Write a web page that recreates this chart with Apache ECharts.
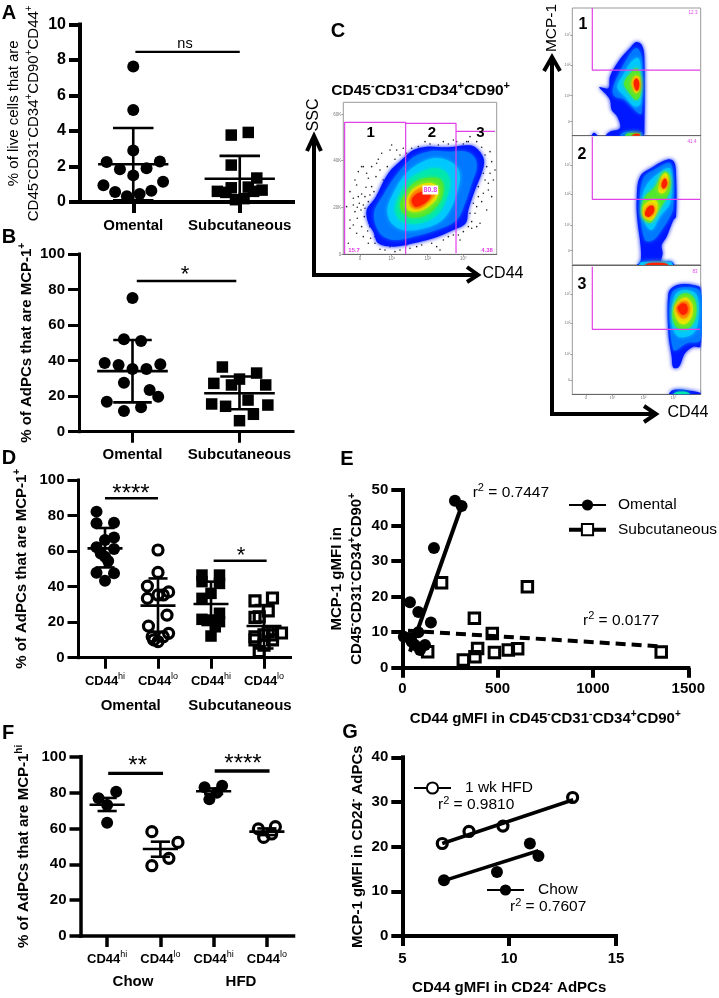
<!DOCTYPE html>
<html><head><meta charset="utf-8">
<style>html,body{margin:0;padding:0;background:#fff}#c{width:719px;height:998px}</style>
<script src="https://cdn.jsdelivr.net/npm/echarts@6/dist/echarts.min.js"></script>
</head><body><div id="c"></div>
<script>
// ---------- panel A
const groupsAB=['Omental','Subcutaneous'];
const aOmental=[[1,7.63],[1,5.18],[1,2.9],[.75,2.25],[1.25,2.28],[.875,1.84],[1.125,1.9],[1,1.5],[.72,.94],[1.28,1.14],[.83,.56],[1.17,.64],[.94,.32],[1.06,.45]];
const aSubcut=[[1.92,3.77],[2.08,3.92],[1.92,2.08],[2.16,1.35],[1.92,.8],[2.08,.84],[1.79,.6],[1.87,.54],[2.13,.6],[2.21,.67],[1.96,.13],[2.04,.19]];
const aStats=[[1,2.13,4.17,.1],[2,1.31,2.6,.03]];
const aSig=[[1.02,8.46],[2,8.46]];
// ---------- panel B
const bOmental=[[1,75.2],[.92,52],[1.08,51],[.74,38.6],[.87,37.5],[1,35.3],[1.13,35.3],[1.26,37.9],[.92,27.6],[1.16,23.5],[1.24,19.7],[.76,16.9],[.92,11.6],[1.08,13.7]];
const bSubcut=[[1.84,36.4],[1.76,27.2],[1.925,26.3],[2,29.6],[2.16,33],[2.245,26.3],[1.74,15.6],[1.87,14.3],[2.08,17.8],[2.265,15],[2.13,9.8],[2,6.2]];
const bStats=[[1,34.1,51.6,16.5],[2,21.6,31.1,12.6]];
const bSig=[[1.04,84.8],[1.97,84.8]];
// ---------- panel D
const hiLo=['CD44{sup|hi}','CD44{sup|lo}','CD44{sup|hi}','CD44{sup|lo}'];
const dOmHi=[[.84,82.2],[.84,75.6],[1.17,76],[1.17,67.7],[1,66.2],[.84,62.1],[1.17,61.2],[.92,58.7],[1,56.8],[1.06,54.4],[.84,47.8],[1.17,47.5],[1,43.3]];
const dOmLo=[[2,60.6],[2,48],[1.8,40.3],[2.2,37],[2,35.3],[1.8,33.4],[2.1,35.3],[2.17,24],[1.82,17.8],[2.2,13.7],[1.89,11.8],[2.1,11.8],[2,9],[1.92,10]];
const dSubHi=[[2.83,46.5],[3.16,46.5],[2.83,42.8],[3.16,41.8],[3,36.2],[2.83,33.4],[3.16,25],[2.83,21.6],[3,21.2],[3.16,20.3],[3.08,17.4],[3,12.2]];
const dSubLo=[[3.83,32],[4.16,33.6],[4.08,26.4],[3.83,22.7],[3.91,23],[4.33,13.9],[3.83,11.8],[3.83,10],[4.16,12.8],[4,12.8],[4,7.1],[3.91,3.4],[4.08,14.6],[4.16,10]];
const dStats=[[1,61.5,73,50.8],[2,29.3,44.6,14.6],[3,30.2,42.8,18.4],[4,17.8,29.6,5.2]];
const dSig1=[[1,89.7],[2,89.7]];
const dSig2=[[3.05,54.6],[4.05,54.6]];
// ---------- panel E
const eOmental=[[276,47],[311,45.5],[166,33.7],[40,18.4],[84,15.7],[150,12.7],[84,10],[40,8.3],[8,8.7],[66,6.4],[119,6.4],[93,5],[49,7.3]];
const eSubcut=[[206,23.9],[656,22.8],[378,13.9],[472,9.6],[1358,4.4],[320,2.2],[381,3.1],[395,5.4],[483,4.3],[556,5],[605,5.3],[133,4.5]];
const eOmFit=[[40,4.5],[311,45.5]];
const eSubFit=[[30,10.4],[1358,6]];
// ---------- panel F
const fChowHi=[[1.17,80.5],[.84,76.8],[1,73],[1,63.2]];
const fChowLo=[[1.84,58.2],[2.33,52.2],[2.16,43.3],[1.84,39.2]];
const fHfdHi=[[2.83,82.9],[3.16,83.8],[3.06,79.9],[2.92,76.2]];
const fHfdLo=[[3.84,59.7],[4.16,61],[4.09,56.9],[3.94,55]];
const fStats=[[1,73.2,77,69.7],[2,48.5,52.6,44.2],[3,80.7,82.3,79.2],[4,58.2,60,56.3]];
const fSig1=[[1.02,90.7],[2.05,90.7]];
const fSig2=[[3.02,92],[4.05,92]];
// ---------- panel G
const gHfd=[[6.87,20.7],[8.12,23.4],[9.71,24.6],[12.97,31]];
const gChow=[[6.95,12.5],[9.43,14.3],[10.97,20.7],[11.37,17.9]];
const gHfdFit=[[6.87,20.7],[13,30.5]];
const gChowFit=[[6.95,12.4],[11.37,19.1]];
// ---------- panel C, flow plots: contour outlines
const heat=['#0018ff','#0078ff','#00c8ff','#00e8b0','#50e830','#e8e800','#ff9800','#ff2000'];
const flowMain=[
 [[200,420],[225,385],[265,310],[310,265],[340,240],[380,230],[440,232],[510,226],[535,240],[552,270],[545,310],[525,360],[505,420],[497,460],[460,480],[400,505],[340,520],[280,530],[235,520],[220,485],[205,460]],
 [[222,430],[250,375],[285,320],[340,262],[395,243],[450,245],[500,245],[525,265],[530,295],[515,340],[495,400],[470,450],[410,480],[340,500],[280,510],[240,490]],
 [[262,420],[280,370],[310,320],[350,285],[400,265],[440,270],[470,290],[480,320],[470,370],[450,420],[420,455],[360,478],[310,480],[275,460]],
 [[285,415],[300,370],[325,330],[365,305],[410,295],[440,310],[450,340],[440,385],[415,430],[375,455],[320,460],[295,445]],
 [[300,410],[315,370],[340,340],[375,325],[415,325],[430,345],[425,385],[400,420],[365,440],[325,440]],
 [[318,400],[332,365],[360,345],[395,340],[415,355],[410,385],[385,410],[350,425],[325,420]],
 [[328,390],[345,362],[375,350],[400,355],[405,375],[385,395],[360,415],[335,412]],
 [[335,390],[350,372],[375,365],[392,375],[385,390],[365,405],[345,410]]];
const flowMainHeat=[0,1,2,3,4,5,6,7];
const flowMainDots=[[190,290],[205,325],[170,345],[185,372],[160,385],[215,350],[228,320],[240,300],[235,268],[270,240],[285,268],[262,290],[250,330],[222,365],[198,352],[178,400],[190,405],[205,395],[183,420],[165,425],[150,450],[172,445],[193,440],[160,465],[185,470],[203,483],[212,505],[190,500],[170,490],[225,520],[240,538],[205,520],[255,540],[285,545],[330,535],[350,530],[365,525],[395,520],[420,540],[430,510],[445,500],[460,495],[470,470],[490,485],[505,470],[515,455],[525,430],[510,430],[530,410],[545,395],[520,400],[550,370],[535,350],[565,340],[555,330],[580,330],[570,310],[585,300],[560,290],[575,275],[555,255],[570,245],[545,232],[530,215],[510,200],[505,215],[490,222],[470,215],[460,210],[445,222],[430,215],[415,225],[390,222],[375,215],[355,230],[335,235],[320,250],[300,255],[310,235],[200,310],[215,290],[150,365],[140,410],[165,330],[175,305],[230,280],[185,290],[245,250],[275,225],[290,240],[540,460],[560,420],[575,380],[530,470],[480,510],[410,530],[320,525],[300,540],[270,530],[225,500],[210,470],[175,380],[195,380],[210,375],[160,405],[172,412],[195,415],[540,300],[550,310],[565,360],[535,380],[515,475],[475,495],[150,475],[145,520],[515,235],[525,240],[540,250],[500,215]];
const flowMainGates=[[[134,553],[134,157],[317,157],[317,553]],[[317,160],[468,160],[468,550]],[[468,184],[585,184]]];
const flow1=[
 [[208,262],[235,265],[240,230],[265,185],[300,145],[318,127],[335,135],[343,170],[343,400],[340,407],[228,407],[240,395],[270,385],[262,350],[245,330],[240,300],[225,280]],
 [[185,407],[192,398],[203,407]],
 [[248,270],[265,225],[295,170],[318,145],[332,160],[337,200],[335,340],[325,340],[285,300],[255,290]],
 [[262,262],[280,225],[305,185],[325,175],[333,210],[332,310],[315,320],[285,290]],
 [[282,250],[300,222],[320,205],[331,225],[331,285],[318,300],[295,275]],
 [[305,245],[316,228],[328,232],[330,265],[318,280],[308,265]],
 [[311,247],[319,235],[327,245],[326,268],[318,272]],
 [[270,407],[285,396],[332,396],[338,407]],
 [[285,407],[295,400],[328,400],[332,407]],
 [[305,407],[315,402],[328,402],[330,407]]];
const flow1Heat=[0,0,1,2,4,5,7,1,4,7];
const flow1Gates=[[[187,25],[187,211],[510,211]]];
const flow2=[
 [[320,600],[330,530],[370,500],[415,478],[432,485],[438,520],[438,650],[430,660],[410,710],[395,735],[398,760],[395,785],[425,785],[432,795],[322,795],[332,782],[332,740],[322,660]],
 [[330,620],[340,535],[380,505],[418,488],[428,510],[430,620],[420,650],[395,690],[370,720],[345,720]],
 [[335,610],[350,555],[400,510],[420,505],[425,550],[420,610],[390,650],[365,690],[345,670]],
 [[335,625],[345,590],[375,560],[402,515],[418,525],[420,570],[400,610],[380,640],[360,668],[340,655]],
 [[385,570],[395,530],[408,520],[416,545],[405,575],[392,580]],
 [[338,640],[345,612],[378,602],[382,630],[365,660],[345,655]],
 [[395,550],[405,535],[412,550],[405,565],[397,565]],
 [[345,638],[355,620],[370,618],[372,635],[358,650],[347,648]],
 [[328,795],[335,786],[422,786],[428,795]],
 [[345,795],[360,789],[400,789],[415,795]]];
const flow2Heat=[0,1,2,4,5,5,7,7,2,7];
const flow2Gates=[[[187,410],[187,598],[510,598]]];
const flow3=[
 [[415,1000],[415,880],[430,860],[460,852],[490,855],[511,865],[511,1040],[490,1040],[465,1060],[447,1100],[430,1103],[425,1070]],
 [[420,980],[425,880],[460,862],[511,875],[511,1020],[470,1030],[440,1050],[430,1050]],
 [[425,950],[435,885],[465,870],[500,885],[505,960],[490,1000],[450,1012],[430,990]],
 [[428,935],[445,890],[470,880],[495,900],[497,950],[475,985],[445,985],[430,965]],
 [[433,925],[450,900],[470,893],[487,915],[485,950],[465,972],[445,965]],
 [[438,925],[455,905],[472,905],[480,925],[472,950],[455,955]],
 [[443,925],[457,910],[470,915],[472,935],[458,945]],
 [[418,1183],[430,1170],[480,1172],[511,1178],[511,1183]],
 [[430,1183],[440,1176],[470,1176],[480,1183]]];
const flow3Heat=[0,1,2,4,5,6,7,0,3];
const flow3Gates=[[[187,800],[187,988],[510,988]]];
const sscTicks=[[133,'60K'],[272,'40K'],[413,'20K'],[553,'0']];
const cd44MainTicks=[[180,'0'],[275,'10¹'],[383,'10²'],[490,'10³']];
const cd44SideTicks=[[168,'0'],[247,'10¹'],[340,'10²'],[430,'10³']];
const mcp1Ticks=[[[106,'10³'],[195,'10²'],[287,'10¹'],[365,'0']],[[495,'10³'],[582,'10²'],[675,'10¹'],[752,'0']],[[883,'10³'],[970,'10²'],[1062,'10¹'],[1140,'0']]];

// ---------- styling helpers
const FF='"Liberation Sans",Arial,sans-serif';
const supB=s=>({fontFamily:FF,fontWeight:'bold',fontSize:s,verticalAlign:'top',lineHeight:s+7});
const nameStyle=(size,lh)=>({fontFamily:FF,fontWeight:'bold',fontSize:size,color:'#000',lineHeight:lh||size+4,
  rich:{sup:supB(Math.round(size*.68))}});
const grids=[],xAxes=[],yAxes=[],series=[],texts=[];

function yAxisDef(gi,max,interval,lw,fs,name,gap,nameFs,lh){
  return {gridIndex:gi,type:'value',min:0,max,interval,name,nameLocation:'middle',nameGap:gap,nameTextStyle:nameStyle(nameFs,lh),
    splitLine:{show:false},axisLine:{show:true,onZero:false,lineStyle:{color:'#000',width:lw,cap:'square'}},
    axisTick:{show:true,length:11,lineStyle:{color:'#000',width:lw}},
    axisLabel:{color:'#000',fontFamily:FF,fontWeight:'bold',fontSize:fs,margin:14}};
}
function xCat(gi,cats,lw,fs,margin){
  return {gridIndex:gi,type:'category',data:cats,boundaryGap:true,position:'bottom',
    axisLine:{show:true,onZero:false,lineStyle:{color:'#000',width:lw,cap:'square'}},
    axisTick:{show:true,alignWithLabel:true,length:11,lineStyle:{color:'#000',width:lw}},splitLine:{show:false},
    axisLabel:{color:'#000',fontFamily:FF,fontWeight:'bold',fontSize:fs,margin,interval:0,lineHeight:fs+6,
      rich:{sup:{fontFamily:FF,fontWeight:'normal',fontSize:Math.round(fs*.68),verticalAlign:'top',lineHeight:fs+6,color:'#000'}}}};
}
function xHidden(gi,min,max){return {gridIndex:gi,type:'value',min,max,show:false,splitLine:{show:false}};}
function addGrid(l,t,w,h,extra){grids.push(Object.assign({left:l,top:t,width:w,height:h,containLabel:false},extra||{}));return grids.length-1;}

function scatter(name,data,xi,yi,sym,size,open,lw){
  series.push({name,type:'scatter',xAxisIndex:xi,yAxisIndex:yi,data,symbol:sym,symbolSize:size,z:open?4:3,silent:true,
    itemStyle:open?{opacity:1,color:'rgba(255,255,255,0)',borderColor:'#000',borderWidth:lw||3.2}:{opacity:1,color:'#000'}});
}
function stats(data,xi,yi,meanW,capW,lw){
  series.push({type:'custom',xAxisIndex:xi,yAxisIndex:yi,z:5,silent:true,data,encode:{x:0,y:1},
    renderItem(p,api){
      const x=api.value(0),m=api.value(1),u=api.value(2),d=api.value(3);
      const seg=(a,b,c,e)=>{const A=api.coord([a,b]),B=api.coord([c,e]);
        return {type:'line',shape:{x1:A[0],y1:A[1],x2:B[0],y2:B[1]},style:{stroke:'#000',lineWidth:lw}};};
      return {type:'group',children:[seg(x,u,x,d),seg(x-meanW,m,x+meanW,m),seg(x-capW,u,x+capW,u),seg(x-capW,d,x+capW,d)]};
    }});
}
function line(name,data,xi,yi,w,extra){
  series.push(Object.assign({name,type:'line',xAxisIndex:xi,yAxisIndex:yi,data,showSymbol:false,symbol:'none',silent:true,z:2,animation:false,
    lineStyle:{color:'#000',width:w}},extra||{}));
}
function txt(x,y,text,size,weight,align,opt){
  texts.push(Object.assign({type:'text',x,y,z:50,silent:true,style:{text,fill:(opt&&opt.fill)||'#000',font:`${weight} ${size}px ${FF}`,
    fontFamily:FF,fontSize:size,fontWeight:weight,textAlign:align||'center',textVerticalAlign:'middle',
    backgroundColor:opt&&opt.bg,padding:opt&&opt.bg?[1,1]:undefined,
    rich:{sup:{fontFamily:FF,fontWeight:weight,fontSize:Math.round(size*.68),verticalAlign:'top',lineHeight:size+4,fill:'#000',color:'#000'},
          t:{fontFamily:FF,fontWeight:weight,fontSize:size,lineHeight:size+4,fill:'#000',color:'#000'}}}},
    opt&&opt.rotation?{rotation:opt.rotation}:{}));
}
const plainNum=v=>String(v);

// ---------- A
let g=addGrid(80,24.5,213,177.5);
xAxes.push(xCat(g,groupsAB,4,15,13)); let xv=xAxes.length; xAxes.push(xHidden(g,.5,2.5));
let ya=yAxes.length; yAxes.push(yAxisDef(g,10,2,4,16,'% of live cells that are\nCD45{sup|-}CD31{sup|-}CD34{sup|+}CD90{sup|+}CD44{sup|+}',33,15,20));
yAxes[ya].nameTextStyle.fontWeight='normal';yAxes[ya].nameTextStyle.rich.sup.fontWeight='normal';
scatter('A Omental',aOmental,xv,ya,'circle',12);scatter('A Subcutaneous',aSubcut,xv,ya,'rect',11.5);
stats(aStats,xv,ya,.33,.19,2.6);line('A sig',aSig,xv,ya,2.4);
// ---------- B
g=addGrid(79,254,214,177.7);
xAxes.push(xCat(g,groupsAB,3,15,13));xv=xAxes.length;xAxes.push(xHidden(g,.5,2.5));
ya=yAxes.length;yAxes.push(yAxisDef(g,100,20,3,15,'% of AdPCs that are MCP-1{sup|+}',41,15));
scatter('B Omental',bOmental,xv,ya,'circle',12);scatter('B Subcutaneous',bSubcut,xv,ya,'rect',11.5);
stats(bStats,xv,ya,.33,.18,2.6);line('B sig',bSig,xv,ya,2.4);
// ---------- D
g=addGrid(78.5,480,212,177.7);
xAxes.push(xCat(g,hiLo,3,13,14));xv=xAxes.length;xAxes.push(xHidden(g,.5,4.5));
ya=yAxes.length;yAxes.push(yAxisDef(g,100,20,3,15,'% of AdPCs that are MCP-1{sup|+}',47,15));
scatter('D om hi',dOmHi,xv,ya,'circle',12);scatter('D om lo',dOmLo,xv,ya,'circle',10,true);
scatter('D sub hi',dSubHi,xv,ya,'rect',11.5);scatter('D sub lo',dSubLo,xv,ya,'rect',10,true);
stats(dStats,xv,ya,.33,.18,2.6);line('D sig1',dSig1,xv,ya,2.4);line('D sig2',dSig2,xv,ya,2.4);
// ---------- E
g=addGrid(402.3,490,286,177.7);
xv=xAxes.length;xAxes.push({gridIndex:g,type:'value',min:0,max:1500,interval:500,name:'CD44 gMFI in CD45{sup|-}CD31{sup|-}CD34{sup|+}CD90{sup|+}',nameLocation:'middle',nameGap:42,nameTextStyle:nameStyle(15),splitLine:{show:false},
  axisLine:{show:true,onZero:false,lineStyle:{color:'#000',width:4,cap:'square'}},axisTick:{show:true,length:10,lineStyle:{color:'#000',width:4}},
  axisLabel:{color:'#000',fontFamily:FF,fontWeight:'bold',fontSize:15,margin:14,formatter:plainNum}});
ya=yAxes.length;yAxes.push(yAxisDef(g,50,10,4,15,'MCP-1 gMFI in\nCD45{sup|-}CD31{sup|-}CD34{sup|+}CD90{sup|+}',35,15,20));
scatter('E Omental pts',eOmental,xv,ya,'circle',12);scatter('E Sub pts',eSubcut,xv,ya,'rect',10.5,true,3);
line('Omental',eOmFit,xv,ya,4,{symbol:'circle',itemStyle:{color:'#000'}});
line('Subcutaneous',eSubFit,xv,ya,4,{symbol:'rect',itemStyle:{color:'#fff',borderColor:'#000',borderWidth:3},lineStyle:{color:'#000',width:4,type:[10,6]}});
// ---------- F
g=addGrid(80.5,756.7,213,179.3);
xAxes.push(xCat(g,hiLo,3.5,13,14));xv=xAxes.length;xAxes.push(xHidden(g,.5,4.5));
ya=yAxes.length;yAxes.push(yAxisDef(g,100,20,3.5,15,'% of AdPCs that are MCP-1{sup|hi}',47,15));
scatter('F1',fChowHi,xv,ya,'circle',12);scatter('F2',fChowLo,xv,ya,'circle',10,true);
scatter('F3',fHfdHi,xv,ya,'circle',12);scatter('F4',fHfdLo,xv,ya,'circle',10,true);
stats(fStats,xv,ya,.33,.18,2.6);line('F sig1',fSig1,xv,ya,3.4);line('F sig2',fSig2,xv,ya,3.4);
// ---------- G
g=addGrid(402.3,757.3,213.7,178.7);
xv=xAxes.length;xAxes.push({gridIndex:g,type:'value',min:5,max:15,interval:5,name:'CD44 gMFI in CD24{sup|-} AdPCs',nameLocation:'middle',nameGap:42,nameTextStyle:nameStyle(15),splitLine:{show:false},
  axisLine:{show:true,onZero:false,lineStyle:{color:'#000',width:4,cap:'square'}},axisTick:{show:true,length:10,lineStyle:{color:'#000',width:4}},
  axisLabel:{color:'#000',fontFamily:FF,fontWeight:'bold',fontSize:15,margin:15,formatter:plainNum}});
ya=yAxes.length;yAxes.push(yAxisDef(g,40,10,4,15,'MCP-1 gMFI in CD24{sup|-} AdPCs',34,15));
scatter('G chow pts',gChow,xv,ya,'circle',12);scatter('G hfd pts',gHfd,xv,ya,'circle',10,true);
line('1 wk HFD',gHfdFit,xv,ya,3.6,{symbol:'circle',itemStyle:{color:'#fff',borderColor:'#000',borderWidth:3}});
line('Chow',gChowFit,xv,ya,3.6,{symbol:'circle',itemStyle:{color:'#000'}});

// ---------- flow plots
function flowPlot(l,t,w,h,xr,yr,contours,heatIdx,gates,xTicks,yTicks,tickFs,dots){
  const gi=addGrid(l,t,w,h,{show:true,backgroundColor:'#fff',borderColor:'#999',borderWidth:1});
  const map=a=>Object.fromEntries(a.map(d=>[d[0],d[1]]));
  const mkAxis=(ticks,r,dir)=>({gridIndex:gi,type:'value',min:r[0],max:r[1],inverse:dir==='y',splitLine:{show:false},
    axisLine:{show:dir==='x',onZero:false,lineStyle:{color:'#666',width:1}},
    axisTick:{show:ticks.length>0,length:2,lineStyle:{color:'#777',width:.7},customValues:ticks.map(d=>d[0])},
    axisLabel:{show:ticks.length>0,customValues:ticks.map(d=>d[0]),fontSize:tickFs,color:'#777',fontFamily:FF,margin:2,
      formatter:v=>map(ticks)[v]||''}});
  const xi=xAxes.length;xAxes.push(mkAxis(xTicks,xr,'x'));
  const yi=yAxes.length;yAxes.push(mkAxis(yTicks,yr,'y'));
  series.push({type:'custom',xAxisIndex:xi,yAxisIndex:yi,z:1,silent:true,clip:true,data:contours.map((c,i)=>[c[0][0],c[0][1],i]),encode:{x:0,y:1},
    renderItem(p,api){const i=api.value(2);const col=heat[heatIdx[i]];
      return {type:'polygon',shape:{points:contours[i].map(q=>api.coord(q)),smooth:.35},style:{fill:col,shadowBlur:4,shadowColor:col}};}});
  if(dots)series.push({type:'scatter',xAxisIndex:xi,yAxisIndex:yi,data:dots,symbolSize:1.6,z:0.5,silent:true,itemStyle:{opacity:1,color:'#222'}});
  gates.forEach(gt=>series.push({type:'line',xAxisIndex:xi,yAxisIndex:yi,data:gt,showSymbol:false,symbol:'none',z:3,silent:true,animation:false,lineStyle:{color:'#e040e8',width:1.2}}));
}
flowPlot(343.3,102.3,153.4,152,[130,590],[97,553],flowMain,flowMainHeat,flowMainGates,cd44MainTicks,sscTicks,4.5,flowMainDots);
flowPlot(572.3,8,128.4,127.7,[127,512],[25,407],flow1,flow1Heat,flow1Gates,[],mcp1Ticks[0],4);
flowPlot(572.3,135.7,128.4,129.3,[127,512],[407,795],flow2,flow2Heat,flow2Gates,[],mcp1Ticks[1],4);
flowPlot(572.3,265,128.4,129.3,[127,512],[795,1183],flow3,flow3Heat,flow3Gates,cd44SideTicks,mcp1Ticks[2],4);

// ---------- annotation text
[['A',9,13],['B',9,237],['C',338,31],['D',9,458],['E',347,459],['F',8,733],['G',350,732]].forEach(a=>txt(a[1],a[2],a[0],20,'bold'));
txt(185,44,'ns',14.5,'normal');txt(185,275,'*',22,'normal');
txt(131,494,'****',24,'normal');txt(241,556,'*',22,'normal');txt(137.7,766,'**',24,'normal');txt(243,764,'****',24,'normal');
txt(130.7,706,'Omental',15,'bold');txt(240,706,'Subcutaneous',15,'bold');
txt(133,982,'Chow',15,'bold');txt(241,982,'HFD',15,'bold');
const r2=(x,y,v)=>txt(x,y,'{t|r}{sup|2}{t| = '+v+'}',15.5,'normal','left');
r2(472.7,492.7,'0.7447');r2(583,620.7,'0.0177');r2(438,805,'0.9810');r2(510,907,'0.7607');
txt(420.7,90.7,'{t|CD45}{sup|-}{t|CD31}{sup|-}{t|CD34}{sup|+}{t|CD90}{sup|+}',15.5,'bold');
txt(314,115,'SSC',16,'normal','center',{rotation:Math.PI/2});
txt(503,274,'CD44',16,'normal');
txt(551.7,28,'MCP-1',15.5,'normal','center',{rotation:Math.PI/2});
txt(688,413,'CD44',16,'normal');
txt(370.7,132.7,'1',15,'bold');txt(432,132.7,'2',15,'bold');txt(480.3,132.7,'3',15,'bold');
txt(430.3,190,'80.8',7,'bold','center',{fill:'#e040e8',bg:'#fff'});
txt(354,250,'15.7',6,'bold','center',{fill:'#e040e8'});txt(487,250,'4.38',6,'bold','center',{fill:'#e040e8'});
txt(583,25,'1',16,'bold');txt(582,155,'2',16,'bold');txt(582,285,'3',16,'bold');
txt(693,13,'12.3',4.5,'normal','center',{fill:'#e040e8'});txt(692,142,'41.4',4.5,'normal','center',{fill:'#e040e8'});txt(695,272,'83',4.5,'normal','center',{fill:'#e040e8'});

// arrows (decoration of panel C)
const arrow=(pts,head)=>[{type:'polyline',z:40,silent:true,shape:{points:pts},style:{stroke:'#000',fill:'none',lineWidth:4}},
  {type:'polyline',z:40,silent:true,shape:{points:head},style:{stroke:'#000',fill:'none',lineWidth:4,lineJoin:'miter'}}];
const arrows=[
  ...arrow([[314,137],[314,275],[476,275]],[[307,151],[314,136],[321,151]]),
  ...arrow([[476,275],[476,275]],[[467,267],[478,275],[467,282]]),
  ...arrow([[552,58],[552,414],[654,414]],[[544,71],[552,57],[560,71]]),
  ...arrow([[654,414],[654,414]],[[644,406],[656,414],[644,422]])];

const legendBase={orient:'vertical',selectedMode:false,padding:0,itemHeight:14,itemWidth:37,itemGap:8.7,
  textStyle:{fontFamily:FF,fontSize:15.5,color:'#000',padding:[0,0,0,7]}};
const legendTextG={fontFamily:FF,fontSize:15.5,color:'#000',padding:[0,0,0,9]};
const chart=echarts.init(document.getElementById('c'),null,{renderer:'canvas'});
chart.setOption({animation:false,backgroundColor:'#fff',grid:grids,xAxis:xAxes,yAxis:yAxes,series,
  legend:[
   Object.assign({},legendBase,{left:567,top:497,data:[{name:'Omental'},{name:'Subcutaneous',lineStyle:{type:'solid',width:4,color:'#000'}}]}),
   Object.assign({},legendBase,{left:413,top:780,data:['1 wk HFD'],textStyle:legendTextG}),
   Object.assign({},legendBase,{left:486,top:882,data:['Chow'],textStyle:legendTextG})],
  graphic:{elements:[...texts,...arrows]}});
</script></body></html>
